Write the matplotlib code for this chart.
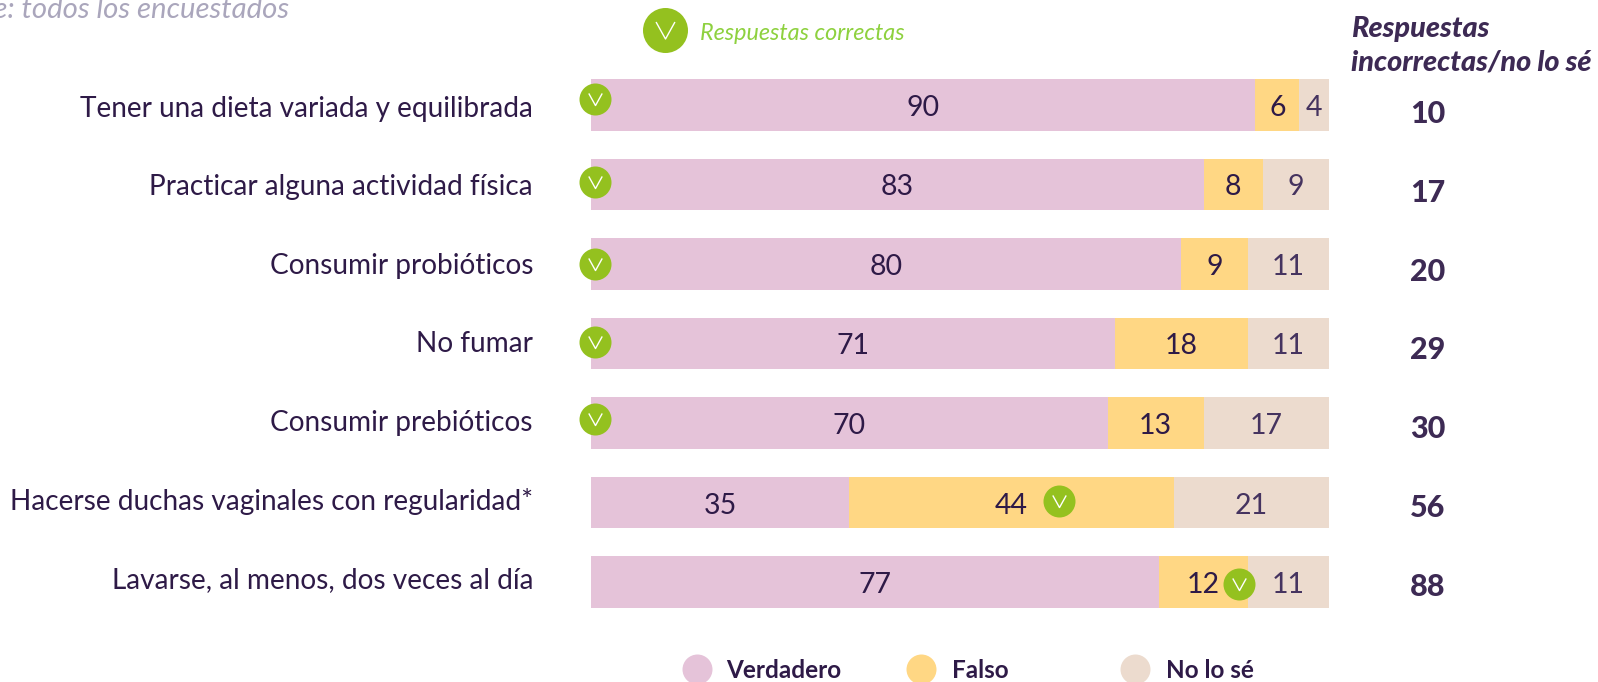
#!/usr/bin/env python3
"""Stacked true/false/don't-know bars with correct-answer ticks."""
import matplotlib

matplotlib.use("Agg")
import matplotlib.pyplot as plt
from matplotlib.path import Path
from matplotlib.transforms import ScaledTranslation

W, H, DPI = 1598, 682, 100

CATEGORIES = [
    "Tener una dieta variada y equilibrada",
    "Practicar alguna actividad física",
    "Consumir probióticos",
    "No fumar",
    "Consumir prebióticos",
    "Hacerse duchas vaginales con regularidad*",
    "Lavarse, al menos, dos veces al día",
]
VERDADERO = [90, 83, 80, 71, 70, 35, 77]
FALSO = [6, 8, 9, 18, 13, 44, 12]
NO_LO_SE = [4, 9, 11, 11, 17, 21, 11]
INCORRECTAS = [10, 17, 20, 29, 30, 56, 88]
# 0 = Verdadero is the right answer, 1 = Falso
CORRECT_SEGMENT = [0, 0, 0, 0, 0, 1, 1]

SERIES = ["Verdadero", "Falso", "No lo sé"]
COLORS = ["#e5c3d9", "#ffd784", "#ecdbce"]
TEXT = "#2e1a47"
TEXT_SOFT = "#45335f"
HEADER = "#3d2a54"
GREEN = "#94c11f"
GREEN_TEXT = "#8ed13f"
GREY = "#aaa6bc"

# pixel nudges of the tick badges from the start of the correct segment
BADGE_DX = [4, 4, 4, 4, 4, 210, 80]
BADGE_DY = [6, 2, 0, 1, 4, 1, -2]

plt.rcParams["font.family"] = ["Lato", "DejaVu Sans"]

V_MARK = Path([(-1.0, 0.9), (0.0, -0.9), (1.0, 0.9)], closed=False)


def px(value):
    """Pixels to points at the figure dpi."""
    return value * 72 / DPI


def draw_badge(ax, x, y, size, transform):
    ax.plot([x], [y], marker="o", ms=px(size), mfc=GREEN, mec="none",
            transform=transform, clip_on=False, zorder=5)
    ax.plot([x], [y], marker=V_MARK, ms=px(size * 0.42), mfc="none", mec="white",
            mew=1.0, transform=transform, clip_on=False, zorder=6)


fig = plt.figure(figsize=(W / DPI, H / DPI), dpi=DPI, facecolor="white")
# bars run 591..1329 px, rows are 79.5 px apart with the first centred on 105 px
ax = fig.add_axes([591 / W, 1 - 621.75 / H, 738 / W, 556.5 / H])
ax.set_xlim(0, 100)
ax.set_ylim(6.5, -0.5)
ax.axis("off")

rows = range(len(CATEGORIES))
left = [0] * len(CATEGORIES)
for s, (values, color) in enumerate(zip((VERDADERO, FALSO, NO_LO_SE), COLORS)):
    ax.barh(list(rows), values, left=left, height=0.65, color=color,
            edgecolor="none")
    for r in rows:
        label_x = left[r] + values[r] / 2
        ax.annotate(str(values[r]), (label_x, r), xytext=(0, px(-3)),
                    textcoords="offset points", ha="center", va="center",
                    fontsize=20.5, color=TEXT_SOFT if s == 2 else TEXT, zorder=4)
    left = [a + b for a, b in zip(left, values)]

for r in rows:
    start = VERDADERO[r] if CORRECT_SEGMENT[r] == 1 else 0
    shift = ScaledTranslation(BADGE_DX[r] / DPI, BADGE_DY[r] / DPI, fig.dpi_scale_trans)
    draw_badge(ax, start, r, 32, ax.transData + shift)

# everything around the bars is placed in figure pixels
over = fig.add_axes([0, 0, 1, 1], facecolor="none")
over.set_xlim(0, W)
over.set_ylim(H, 0)
over.axis("off")

for r, (name, total) in enumerate(zip(CATEGORIES, INCORRECTAS)):
    over.text(533, 109 + 78.5 * r, name, ha="right", va="center", fontsize=20.2, color=TEXT)
    over.text(1428, 114 + 78.8 * r, str(total), ha="center", va="center", fontsize=22,
              fontweight="black", color=HEADER)

over.text(289, 10, "Base: todos los encuestados", ha="right", va="center", fontsize=21.2,
          style="italic", color=GREY)
draw_badge(over, 665, 30, 45, over.transData)
over.text(700, 33, "Respuestas correctas", ha="left", va="center", fontsize=16.8,
          style="italic", color=GREEN_TEXT)
over.text(1351, 29, "Respuestas", ha="left", va="center", fontsize=20.8,
          style="italic", fontweight="black", color=HEADER)
over.text(1351, 63, "incorrectas/no lo sé", ha="left", va="center", fontsize=20.8,
          style="italic", fontweight="black", color=HEADER)

for name, color, cx, tx in zip(SERIES, COLORS, (697, 921, 1135), (726, 952, 1166)):
    over.plot([cx], [669], marker="o", ms=px(30), mfc=color, mec="none", clip_on=False)
    over.text(tx, 671, name, ha="left", va="center", fontsize=17.5,
              fontweight="bold", color=TEXT)

fig.savefig("out.png", dpi=DPI)
